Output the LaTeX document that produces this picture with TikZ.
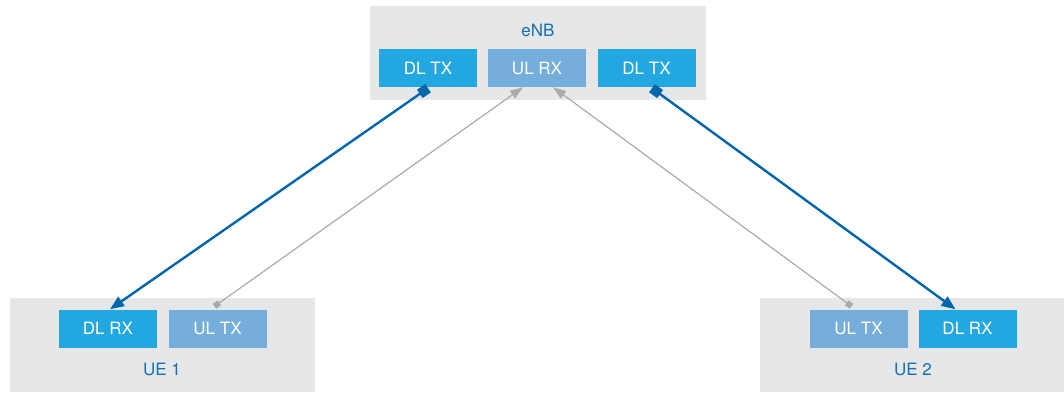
\documentclass[tikz,border=0pt]{standalone}
\usepackage{fontspec}
\setmainfont{TeX Gyre Heros}
\usetikzlibrary{arrows.meta,positioning,calc}
\definecolor{panelgray}{RGB}{230,231,232}
\definecolor{dlcyan}{RGB}{34,167,224}
\definecolor{ulblue}{RGB}{118,174,219}
\definecolor{labelblue}{RGB}{26,111,176}
\definecolor{linkblue}{RGB}{0,102,169}
\definecolor{linkgray}{RGB}{170,170,172}

\tikzset{
    panel/.style={fill=panelgray, minimum width=#1, minimum height=94pt, inner sep=0pt},
    dlbox/.style={fill=dlcyan, text=white, minimum width=98pt, minimum height=38pt, inner sep=0pt},
    ulbox/.style={fill=ulblue, text=white, minimum width=98pt, minimum height=38pt, inner sep=0pt},
    panellabel/.style={text=labelblue},
    dllink/.style={linkblue, line width=2.4pt, {Square[length=10pt,width=10pt]}-{Triangle[length=14pt,width=11pt]}},
    ullink/.style={linkgray, line width=1.2pt, {Square[length=6pt,width=6pt]}-{Triangle[length=13pt,width=9pt]}}
}

\begin{document}
\begin{tikzpicture}[x=1pt, y=-1pt, font=\fontsize{17}{20}\selectfont]
    \useasboundingbox (0,0) rectangle (1064,393);

    % eNB
    \node[panel=336pt] (enb) at (538,53.5) {};
    \node[panellabel] (enblabel) at (538,30) {eNB};
    \node[dlbox] (dltxa) at (428,68) {DL TX};
    \node[ulbox] (ulrx) at (537,68) {UL RX};
    \node[dlbox] (dltxb) at (646.5,68) {DL TX};

    % UE 1
    \node[panel=305pt] (uea) at (162.5,344.5) {};
    \node[dlbox] (dlrxa) at (108,328.5) {DL RX};
    \node[ulbox] (ultxa) at (217.5,328.5) {UL TX};
    \node[panellabel] (uealabel) at (162,369) {UE 1};

    % UE 2
    \node[panel=304pt] (ueb) at (912,344.5) {};
    \node[ulbox] (ultxb) at (858.5,328.5) {UL TX};
    \node[dlbox] (dlrxb) at (967.5,328.5) {DL RX};
    \node[panellabel] (ueblabel) at (913,369) {UE 2};

    % downlink
    \draw[dllink] ([yshift=-1pt]dltxa.south) -- ([xshift=2pt]dlrxa.north);
    \draw[dllink] ([xshift=5.5pt,yshift=-1pt]dltxb.south) -- ([xshift=-12pt]dlrxb.north);

    % uplink
    \draw[ullink] ([xshift=-3pt,yshift=3pt]ultxa.north) -- ([xshift=-14pt]ulrx.south);
    \draw[ullink] ([xshift=-7pt,yshift=3pt]ultxb.north) -- ([xshift=16pt]ulrx.south);
\end{tikzpicture}
\end{document}
